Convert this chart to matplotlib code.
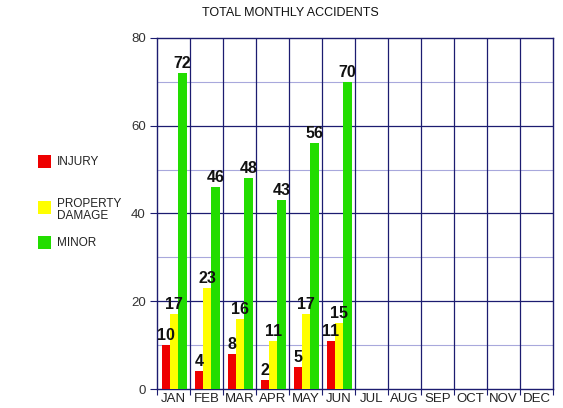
import matplotlib.pyplot as plt
import numpy as np
from matplotlib.patches import Rectangle

plt.rcParams['font.family'] = ['Liberation Sans', 'DejaVu Sans']

months = ["JAN", "FEB", "MAR", "APR", "MAY", "JUN",
          "JUL", "AUG", "SEP", "OCT", "NOV", "DEC"]
injury = [10, 4, 8, 2, 5, 11]
property_damage = [17, 23, 16, 11, 17, 15]
minor = [72, 46, 48, 43, 56, 70]

series = [("INJURY", injury, "#ee0000"),
          ("PROPERTY\nDAMAGE", property_damage, "#ffff00"),
          ("MINOR", minor, "#22dd00")]

navy = "#1c1c70"
lavender = "#a8a8dc"

fig = plt.figure(figsize=(5.63, 4.08), dpi=100)
ax = fig.add_axes([157 / 563, 19 / 408, 396 / 563, 351 / 408])

w = 0.25
x = np.arange(len(injury))
for k, (name, vals, col) in enumerate(series):
    pos = x + 0.27 + k * w
    ax.bar(pos, vals, width=w, color=col, zorder=3)
    for px, v in zip(pos, vals):
        ax.text(px, v + 0.5, str(v), ha='center', va='bottom',
                fontsize=11.5, fontweight='bold', color='#111111', zorder=4)

ax.set_xlim(0, 12)
ax.set_ylim(0, 80)

# grid
for yv in [10, 30, 50, 70]:
    ax.axhline(yv, color=lavender, lw=0.8, zorder=1)
for yv in [20, 40, 60]:
    ax.axhline(yv, color=navy, lw=0.9, zorder=1)
for xv in range(1, 12):
    ax.axvline(xv, color=navy, lw=0.9, zorder=1)

for s in ax.spines.values():
    s.set_color(navy)
    s.set_linewidth(1.0)

ax.set_xticks(range(13))
ax.set_xticklabels([])
ax.set_xticks(np.arange(12) + 0.5, minor=True)
ax.set_xticklabels(months, minor=True, fontsize=9.5, color='#222222')
ax.tick_params(axis='x', which='major', length=4, color=navy, direction='out')
ax.tick_params(axis='x', which='minor', length=0, pad=3)
ax.set_yticks([0, 20, 40, 60, 80])
ax.tick_params(axis='y', length=5, color=navy, labelsize=9.5, labelcolor='#333333', pad=3)

fig.text(290 / 563, 1 - 13 / 408, "TOTAL MONTHLY ACCIDENTS", ha='center', va='center',
         fontsize=9, color='#111111')

# legend
legend_y = [162, 208, 243]
for (name, vals, col), ly in zip(series, legend_y):
    fig.patches.append(Rectangle((38 / 563, 1 - (ly + 6) / 408), 13 / 563, 13 / 408,
                                 transform=fig.transFigure, facecolor=col,
                                 edgecolor='none'))
    ty = ly + 2 if "\n" in name else ly
    fig.text(57 / 563, 1 - ty / 408, name, ha='left', va='center', fontsize=8.5,
             color='#222222', linespacing=1.05)

fig.savefig("out.png", dpi=100)
